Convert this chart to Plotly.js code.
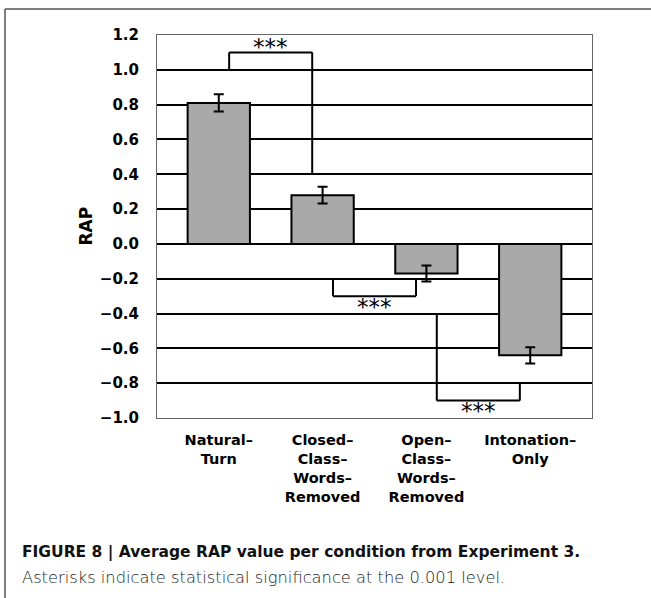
<!DOCTYPE html>
<html>
<head>
<meta charset="utf-8">
<script src="https://cdn.plot.ly/plotly-3.0.1.min.js"></script>
<style>
  html, body { margin: 0; padding: 0; background: #fff; }
  #chart { width: 651px; height: 598px; }
</style>
</head>
<body>
<div id="chart"></div>
<script>
// ---- data ----
const categories = ["Natural–<br>Turn", "Closed–<br>Class–<br>Words–<br>Removed", "Open–<br>Class–<br>Words–<br>Removed", "Intonation–<br>Only"];
const rapValues = [0.81, 0.28, -0.17, -0.64];
const rapErrors = [0.05, 0.048, 0.046, 0.047];
const yTickVals = [-1.0, -0.8, -0.6, -0.4, -0.2, 0.0, 0.2, 0.4, 0.6, 0.8, 1.0, 1.2];
const yTickText = ["−1.0", "−0.8", "−0.6", "−0.4", "−0.2", "0.0", "0.2", "0.4", "0.6", "0.8", "1.0", "1.2"];
// significance brackets (category index positions, RAP levels)
const bracketLeftX = [0.1, 1.1, 2.1];
const bracketRightX = [0.9, 1.9, 2.9];
const bracketLeftY = [1.0, -0.2, -0.4];
const bracketBarY = [1.1, -0.3, -0.9];
const bracketRightY = [0.4, -0.2, -0.8];
const starY = [1.15, -0.345, -0.945];
const starText = ["***", "***", "***"];
const captionBold = "FIGURE 8 | Average RAP value per condition from Experiment 3.";
const captionLight = "Asterisks indicate statistical significance at the 0.001 level.";

// ---- layout geometry ----
const W = 651, H = 598;
const L = 157, R = 592, T = 35, B = 418;
const px2x = p => (p - L) / (R - L);
const px2y = p => (B - p) / (B - T);

const shapes = [];
const lineStyle = { color: "#000", width: 2 };
for (let i = 0; i < bracketLeftX.length; i++) {
  shapes.push({ type: "line", xref: "x", yref: "y", x0: bracketLeftX[i], x1: bracketLeftX[i], y0: bracketLeftY[i], y1: bracketBarY[i], line: lineStyle, layer: "above" });
  shapes.push({ type: "line", xref: "x", yref: "y", x0: bracketLeftX[i], x1: bracketRightX[i], y0: bracketBarY[i], y1: bracketBarY[i], line: lineStyle, layer: "above" });
  shapes.push({ type: "line", xref: "x", yref: "y", x0: bracketRightX[i], x1: bracketRightX[i], y0: bracketBarY[i], y1: bracketRightY[i], line: lineStyle, layer: "above" });
}
// outer figure frame
const frame = { color: "#555", width: 1.5 };
shapes.push({ type: "line", xref: "paper", yref: "paper", x0: px2x(5), x1: px2x(W + 2), y0: px2y(9), y1: px2y(9), line: frame });
shapes.push({ type: "line", xref: "paper", yref: "paper", x0: px2x(5), x1: px2x(5), y0: px2y(9), y1: px2y(H + 2), line: frame });

const annotations = [];
for (let i = 0; i < starText.length; i++) {
  annotations.push({
    xref: "x", yref: "y", x: (bracketLeftX[i] + bracketRightX[i]) / 2, y: starY[i],
    text: starText[i], showarrow: false, xanchor: "center", yanchor: "middle", yshift: -3,
    font: { family: "DejaVu Sans", size: 23, color: "#000000" }
  });
}
annotations.push({
  xref: "paper", yref: "paper", x: px2x(85), y: px2y(226.5), text: "<b>RAP</b>",
  textangle: -90, showarrow: false, xanchor: "center", yanchor: "middle",
  font: { family: "DejaVu Sans", size: 17, color: "#000" }
});
annotations.push({
  xref: "paper", yref: "paper", x: px2x(20), y: px2y(552), text: captionBold,
  showarrow: false, xanchor: "left", yanchor: "middle",
  font: { family: "DejaVu Sans", size: 15.5, weight: 700, color: "#111" }
});
annotations.push({
  xref: "paper", yref: "paper", x: px2x(20), y: px2y(577), text: captionLight,
  showarrow: false, xanchor: "left", yanchor: "middle",
  font: { family: "DejaVu Sans", size: 16.3, weight: 200, color: "#222" }
});

const trace = {
  type: "bar",
  x: categories,
  y: rapValues,
  width: 0.6,
  marker: { color: "#a9a9a9", line: { color: "#000", width: 2 } },
  error_y: { type: "data", array: rapErrors, visible: true, color: "#000", thickness: 2, width: 5 },
  hoverinfo: "skip"
};

const layout = {
  width: W, height: H,
  margin: { l: L, r: W - R, t: T, b: H - B, pad: 0 },
  paper_bgcolor: "#fff", plot_bgcolor: "#fff",
  showlegend: false,
  xaxis: {
    type: "category",
    range: [-0.595, 3.595],
    showgrid: false, zeroline: false,
    showline: true, linecolor: "#666", linewidth: 1, mirror: true,
    ticks: "", ticklabelstandoff: 9,
    tickfont: { family: "DejaVu Sans", size: 14.5, weight: 700, color: "#000" },
    fixedrange: true
  },
  yaxis: {
    range: [-1.0, 1.2],
    tickvals: yTickVals, ticktext: yTickText,
    showgrid: true, gridcolor: "#000", gridwidth: 2,
    zeroline: false,
    showline: true, linecolor: "#666", linewidth: 1, mirror: true,
    ticks: "", ticklabelstandoff: 14,
    tickfont: { family: "DejaVu Sans", size: 15, weight: 700, color: "#000" },
    fixedrange: true
  },
  shapes: shapes,
  annotations: annotations
};

Plotly.newPlot("chart", [trace], layout, { displayModeBar: false, staticPlot: true });
</script>
</body>
</html>
